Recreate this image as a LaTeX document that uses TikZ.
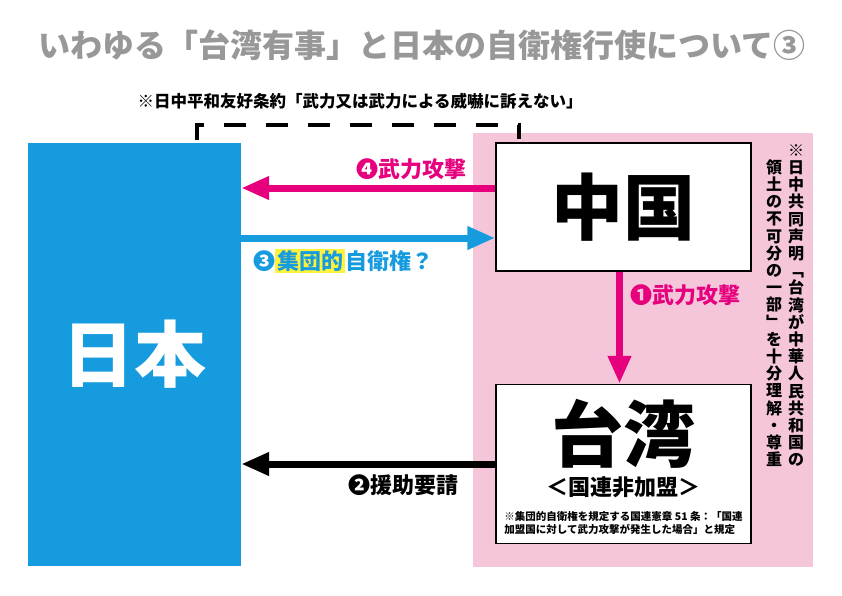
\documentclass[tikz,border=0pt]{standalone}
\usepackage{fontspec}
\setmainfont{Noto Sans CJK JP}
\usepackage{tikz}
\usetikzlibrary{positioning, arrows.meta}
\definecolor{JapanBlue}{RGB}{22,156,222}
\definecolor{AttackPink}{RGB}{230,0,126}
\definecolor{ZonePink}{RGB}{245,198,217}
\definecolor{TitleGray}{RGB}{152,152,152}
\definecolor{MarkYellow}{RGB}{255,242,60}
\setlength{\fboxsep}{2pt}
\setlength{\lineskiplimit}{-100pt}

\begin{document}
\begin{tikzpicture}[
    x=1pt, y=-1pt,
    node distance=112pt,
    box/.style={draw, line width=1.5pt, fill=white, minimum width=255pt, inner sep=0pt},
    bigtext/.style={font=\fontsize{72}{72}\selectfont\bfseries},
    lbl/.style={font=\fontsize{22}{22}\selectfont\bfseries, inner sep=0pt},
    vnote/.style={font=\fontsize{16}{17.2}\selectfont\bfseries, align=center, inner sep=0pt, anchor=south},
    arr/.style={line width=7pt, -{Triangle[length=28pt, width=22pt]}},
    treaty/.style={line width=4pt, dash pattern=on 22pt off 20pt}
]
\useasboundingbox (0,0) rectangle (842,595);

\node[font=\fontsize{32}{32}\selectfont\bfseries, text=TitleGray] (title) at (422,45) {いわゆる「台湾有事」と日本の自衛権行使について③};
\node[font=\fontsize{16.5}{16.5}\selectfont\bfseries] (treatynote) at (360,101) {※日中平和友好条約「武力又は武力による威嚇に訴えない」};

\node[fill=ZonePink, minimum width=340pt, minimum height=434pt, inner sep=0pt] (zone) at (643,350) {};
\node[fill=JapanBlue, minimum width=213pt, minimum height=423pt, inner sep=0pt, text=white, bigtext] (japan) at (134.5,354.5) {日本};
\node[box, minimum height=128pt, bigtext] (china) at (623.5,207) {中国};
\node[box, minimum height=159pt, below=of china] (taiwan) {};
\node[bigtext] (taiwanname) at ([yshift=30.5pt]taiwan.center) {台湾};
\node[font=\fontsize{22}{22}\selectfont\bfseries] (unstatus) at ([yshift=-23.5pt]taiwan.center) {＜国連非加盟＞};
\node[font=\fontsize{10.5}{13}\selectfont\bfseries, align=left, inner sep=0pt] (unnote) at ([yshift=-59pt]taiwan.center) {※集団的自衛権を規定する国連憲章 51 条：「国連\\加盟国に対して武力攻撃が発生した場合」と規定};

% joint communique, written top to bottom
\node[vnote] (declA) at (796,467) {※\\日\\中\\共\\同\\声\\明\\﹁\\台\\湾\\が\\中\\華\\人\\民\\共\\和\\国\\の};
\node[vnote] (declB) at (774,467) {領\\土\\の\\不\\可\\分\\の\\一\\部\\﹂\\を\\十\\分\\理\\解\\・\\尊\\重};

\draw[treaty] ([xshift=62.5pt, yshift=3pt]japan.north) -- ++(0,-15) -| ([xshift=-104.5pt, yshift=3pt]china.north);

\draw[arr, AttackPink] ([yshift=19pt]china.west) -- ([yshift=19pt]china.west -| japan.east);
\draw[arr, JapanBlue] ([yshift=-31pt]china.west -| japan.east) -- ([yshift=-31pt]china.west);
\draw[arr, AttackPink] ([xshift=-4pt]china.south) -- ([xshift=-4pt]taiwan.north);
\draw[arr] (taiwan.west) -- (taiwan.west -| japan.east);

\node[lbl, text=AttackPink, anchor=east] (attack4) at (467,169) {❹武力攻撃};
\node[lbl, text=JapanBlue, anchor=west] (collective3) at (253,261) {❸\colorbox{MarkYellow}{集団的}自衛権？};
\node[lbl, text=AttackPink, anchor=west] (attack1) at (630,295) {❶武力攻撃};
\node[lbl, anchor=east] (request2) at (459,485) {❷援助要請};
\end{tikzpicture}
\end{document}
